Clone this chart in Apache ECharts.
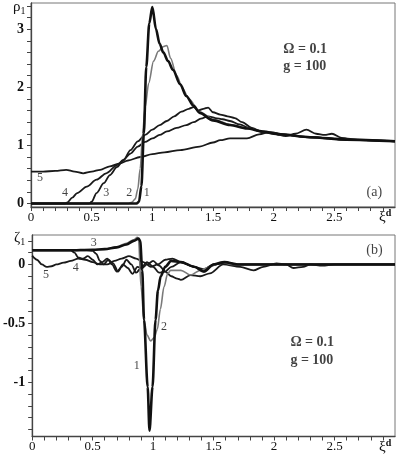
<!DOCTYPE html>
<html>
<head>
<meta charset="utf-8">
<script src="https://cdn.jsdelivr.net/npm/echarts@6/dist/echarts.min.js"></script>
<style>
html,body{margin:0;padding:0;background:#fff;}
#main{width:398px;height:459px;}
</style>
</head>
<body>
<div id="main"></div>
<script>
// panel (a): rho_1 against xi^d
var rhoCurve1 = [[0,0],[0.5,0],[0.87,0],[0.89,0.03],[0.91,0.3],[0.93,1.2],[0.95,2.35],[0.975,3.1],[1.0,3.38],[1.03,3.0],[1.06,2.75],[1.09,2.6],[1.13,2.45],[1.17,2.3],[1.23,2.05],[1.28,1.85],[1.34,1.68],[1.39,1.56],[1.5,1.43],[1.64,1.35],[1.78,1.29],[1.91,1.24],[2.05,1.19],[2.3,1.14],[2.6,1.1],[3.0,1.07]];
var rhoCurve2 = [[0,0],[0.8,0],[0.83,0.02],[0.86,0.08],[0.88,0.25],[0.9,0.6],[0.92,1.2],[0.94,1.65],[0.97,2.07],[1.01,2.45],[1.05,2.62],[1.09,2.7],[1.12,2.72],[1.15,2.5],[1.2,2.2],[1.25,1.98],[1.3,1.8],[1.39,1.58],[1.5,1.45],[1.64,1.36],[1.78,1.3],[1.91,1.24],[2.05,1.19],[2.3,1.14],[2.6,1.1],[3.0,1.07]];
var rhoCurve3 = [[0,0],[0.48,0],[0.5,0.03],[0.54,0.18],[0.6,0.35],[0.65,0.49],[0.71,0.63],[0.76,0.74],[0.82,0.92],[0.88,1.07],[0.94,1.18],[1.0,1.27],[1.06,1.35],[1.12,1.42],[1.18,1.5],[1.24,1.58],[1.3,1.63],[1.34,1.66],[1.38,1.6],[1.42,1.63],[1.46,1.65],[1.5,1.57],[1.56,1.53],[1.62,1.5],[1.68,1.47],[1.74,1.4],[1.82,1.3],[1.9,1.24],[2.0,1.21],[2.1,1.18],[2.3,1.14],[2.6,1.1],[3.0,1.07]];
var rhoCurve4 = [[0,0],[0.28,0],[0.3,0.02],[0.34,0.1],[0.38,0.18],[0.46,0.29],[0.54,0.41],[0.62,0.52],[0.71,0.66],[0.76,0.75],[0.82,0.86],[0.88,0.98],[0.94,1.06],[1.0,1.12],[1.06,1.18],[1.12,1.24],[1.2,1.3],[1.28,1.35],[1.34,1.4],[1.4,1.46],[1.46,1.5],[1.52,1.47],[1.58,1.45],[1.64,1.42],[1.72,1.36],[1.8,1.3],[1.9,1.23],[2.0,1.2],[2.1,1.16],[2.18,1.2],[2.27,1.27],[2.35,1.2],[2.42,1.18],[2.48,1.2],[2.56,1.13],[2.7,1.09],[3.0,1.07]];
var rhoCurve5 = [[0,0.55],[0.1,0.55],[0.2,0.56],[0.29,0.58],[0.36,0.55],[0.43,0.52],[0.5,0.55],[0.57,0.58],[0.65,0.64],[0.73,0.69],[0.8,0.74],[0.9,0.8],[1.0,0.85],[1.1,0.88],[1.23,0.92],[1.39,0.98],[1.5,1.05],[1.56,1.09],[1.64,1.12],[1.78,1.12],[1.88,1.19],[1.97,1.23],[2.1,1.18],[2.3,1.14],[2.6,1.1],[3.0,1.07]];

// panel (b): zeta_1 against xi^d
var zetaCurve1 = [[0,0.12],[0.3,0.12],[0.5,0.125],[0.6,0.13],[0.7,0.145],[0.78,0.17],[0.84,0.2],[0.88,0.22],[0.893,0.2],[0.91,-0.05],[0.925,-0.47],[0.955,-1.04],[0.97,-1.41],[0.995,-1.04],[1.02,-0.47],[1.04,-0.22],[1.063,-0.1],[1.1,-0.02],[1.15,0.03],[1.23,0.02],[1.34,-0.02],[1.42,-0.06],[1.5,0.0],[1.59,0.02],[1.7,0.0],[2.0,0.0],[3.0,0.0]];
var zetaCurve2 = [[0,0.12],[0.3,0.12],[0.5,0.125],[0.6,0.13],[0.7,0.15],[0.78,0.18],[0.84,0.21],[0.87,0.23],[0.88,0.2],[0.9,-0.19],[0.925,-0.47],[0.95,-0.6],[0.98,-0.65],[1.01,-0.62],[1.035,-0.55],[1.06,-0.38],[1.09,-0.19],[1.12,-0.08],[1.145,-0.05],[1.23,-0.05],[1.31,-0.09],[1.39,-0.05],[1.47,-0.02],[1.56,0.02],[1.65,0.0],[2.0,0.0],[3.0,0.0]];
var zetaCurve3 = [[0,0.12],[0.45,0.12],[0.5,0.115],[0.53,0.09],[0.56,0.03],[0.59,0.0],[0.63,0.04],[0.67,0.01],[0.71,-0.06],[0.75,0.0],[0.79,-0.03],[0.83,-0.08],[0.87,-0.02],[0.91,-0.03],[0.95,0.0],[1.0,0.03],[1.05,-0.01],[1.1,-0.06],[1.15,-0.1],[1.2,-0.12],[1.23,-0.13],[1.31,-0.09],[1.39,-0.1],[1.47,-0.075],[1.58,0.0],[1.72,-0.02],[1.83,-0.05],[1.91,-0.02],[2.02,0.01],[2.1,0.0],[2.16,-0.03],[2.24,-0.02],[2.3,0.0],[2.4,-0.01],[2.5,0.0],[3.0,0.0]];
var zetaCurve4 = [[0,0.12],[0.32,0.12],[0.35,0.1],[0.38,0.06],[0.42,0.05],[0.46,0.07],[0.5,0.04],[0.54,0.0],[0.58,0.02],[0.62,0.05],[0.66,0.0],[0.7,-0.06],[0.74,-0.02],[0.78,0.04],[0.82,0.0],[0.86,-0.07],[0.9,-0.03],[0.95,0.02],[1.0,-0.02],[1.05,-0.07],[1.1,-0.06],[1.15,-0.02],[1.23,0.02],[1.34,-0.02],[1.42,-0.06],[1.5,0.0],[1.59,0.02],[1.7,0.0],[2.0,0.0],[3.0,0.0]];
var zetaCurve5 = [[0,0.075],[0.04,0.04],[0.08,0.0],[0.12,-0.02],[0.16,-0.015],[0.2,0.0],[0.26,0.015],[0.32,0.03],[0.38,0.05],[0.44,0.04],[0.5,0.02],[0.56,0.0],[0.62,0.0],[0.68,0.03],[0.74,0.05],[0.8,0.07],[0.86,0.05],[0.92,0.02],[0.98,-0.02],[1.04,0.0],[1.1,0.04],[1.16,0.05],[1.23,0.02],[1.34,-0.02],[1.42,-0.04],[1.5,0.0],[1.59,0.01],[1.7,0.0],[2.0,0.0],[3.0,0.0]];

// tick labels
var xLabels = [0, 0.5, 1, 1.5, 2, 2.5];
var rhoLabels = [0, 1, 2, 3];
var zetaLabels = [-1, -0.5, 0];

// curve numbers and notes, in data units: [x, y, text]
var rhoNotes = [[0.074,0.44,'5'],[0.28,0.18,'4'],[0.62,0.18,'3'],[0.81,0.18,'2'],[0.955,0.18,'1']];
var zetaNotes = [[0.115,-0.09,'5'],[0.36,-0.025,'4'],[0.51,0.185,'3'],[1.09,-0.53,'2'],[0.865,-0.86,'1']];
var rhoParams = [[2.08,2.66,'Ω = 0.1'],[2.08,2.36,'g = 100']];
var zetaParams = [[2.135,-0.665,'Ω = 0.1'],[2.135,-0.81,'g = 100']];
var rhoPanel = [[2.83,0.2,'(a)']];
var zetaPanel = [[2.83,0.123,'(b)']];

function steps(a, b, s){
	var out = [];
	for(var v = a; v <= b + 1e-9; v += s){
		out.push(Math.round(v*100)/100);
	}
	return out;
}

var serif = '"Liberation Serif", "DejaVu Serif", serif';

function xAxisFor(i){
	return {
		type:'value', gridIndex:i, min:0, max:3,
		axisLine:{onZero:false, lineStyle:{color:'#444', width:1.3}},
		axisTick:{customValues:steps(0,2.9,0.1), length:4, lineStyle:{color:'#444'}},
		axisLabel:{customValues:xLabels, margin:4, color:'#111', fontFamily:serif, fontSize:13},
		splitLine:{show:false}
	};
}

function lineSeries(data, xi, color, width){
	return {
		type:'line', xAxisIndex:xi, yAxisIndex:xi, data:data,
		showSymbol:false, smooth:0.3, smoothMonotone:'x', silent:true,
		lineStyle:{color:color, width:width}
	};
}

function noteSeries(data, xi, size, pos, weight){
	return {
		type:'scatter', xAxisIndex:xi, yAxisIndex:xi, data:data, symbolSize:0, silent:true,
		label:{show:true, position:pos, distance:0, color:'#111', fontFamily:serif, fontSize:size, fontWeight:weight||'normal',
			formatter:function(p){ return p.data[2]; }}
	};
}

var myChart = echarts.init(document.getElementById('main'));
var option = {
	animation:false,
	backgroundColor:'#fff',
	grid:[
		{left:31, right:3, top:3, height:204, show:true, borderColor:'#777', borderWidth:1},
		{left:31, right:3, top:235, height:201.5, show:true, borderColor:'#777', borderWidth:1}
	],
	xAxis:[xAxisFor(0), xAxisFor(1)],
	yAxis:[
		{
			type:'value', gridIndex:0, min:-0.06, max:3.45,
			axisLine:{onZero:false, lineStyle:{color:'#444', width:1.3}},
			axisTick:{customValues:steps(0,3.4,0.2), length:4, lineStyle:{color:'#444'}},
			axisLabel:{customValues:rhoLabels, margin:7, color:'#111', fontFamily:serif, fontSize:14, fontWeight:'bold'},
			splitLine:{show:false}
		},
		{
			type:'value', gridIndex:1, min:-1.46, max:0.25,
			axisLine:{onZero:false, lineStyle:{color:'#444', width:1.3}},
			axisTick:{customValues:steps(-1.4,0.2,0.1), length:4, lineStyle:{color:'#444'}},
			axisLabel:{customValues:zetaLabels, margin:7, color:'#111', fontFamily:serif, fontSize:14, fontWeight:'bold'},
			splitLine:{show:false}
		}
	],
	graphic:[
		{type:'text', left:13, top:0, style:{text:'{a|ρ}{s|1}', rich:{a:{fontFamily:serif, fontSize:15, fill:'#111'}, s:{fontFamily:serif, fontSize:10, fill:'#111', padding:[7,0,0,0]}}}},
		{type:'text', left:14, top:231, style:{text:'{a|ζ}{s|1}', rich:{a:{fontFamily:serif, fontSize:15, fill:'#111'}, s:{fontFamily:serif, fontSize:10, fill:'#111', padding:[7,0,0,0]}}}},
		{type:'text', left:379, top:208, style:{text:'{a|ξ}{s|d}', rich:{a:{fontFamily:serif, fontSize:15, fill:'#111'}, s:{fontFamily:serif, fontSize:10, fontWeight:'bold', fill:'#111', padding:[0,0,8,0]}}}},
		{type:'text', left:379, top:438, style:{text:'{a|ξ}{s|d}', rich:{a:{fontFamily:serif, fontSize:15, fill:'#111'}, s:{fontFamily:serif, fontSize:10, fontWeight:'bold', fill:'#111', padding:[0,0,8,0]}}}}
	],
	series:[
		lineSeries(rhoCurve5, 0, '#1a1a1a', 1.8),
		lineSeries(rhoCurve4, 0, '#1a1a1a', 1.8),
		lineSeries(rhoCurve3, 0, '#1a1a1a', 1.8),
		lineSeries(rhoCurve2, 0, '#7a7a7a', 1.6),
		lineSeries(rhoCurve1, 0, '#111', 2.6),
		lineSeries(zetaCurve5, 1, '#1a1a1a', 1.8),
		lineSeries(zetaCurve4, 1, '#1a1a1a', 1.8),
		lineSeries(zetaCurve3, 1, '#1a1a1a', 1.8),
		lineSeries(zetaCurve2, 1, '#7a7a7a', 1.6),
		lineSeries(zetaCurve1, 1, '#111', 2.6),
		noteSeries(rhoNotes, 0, 12, 'inside'),
		noteSeries(zetaNotes, 1, 12, 'inside'),
		noteSeries(rhoParams, 0, 14, 'right', 'bold'),
		noteSeries(zetaParams, 1, 14, 'right', 'bold'),
		noteSeries(rhoPanel, 0, 14, 'inside'),
		noteSeries(zetaPanel, 1, 14, 'inside')
	]
};
myChart.setOption(option);
</script>
</body>
</html>
